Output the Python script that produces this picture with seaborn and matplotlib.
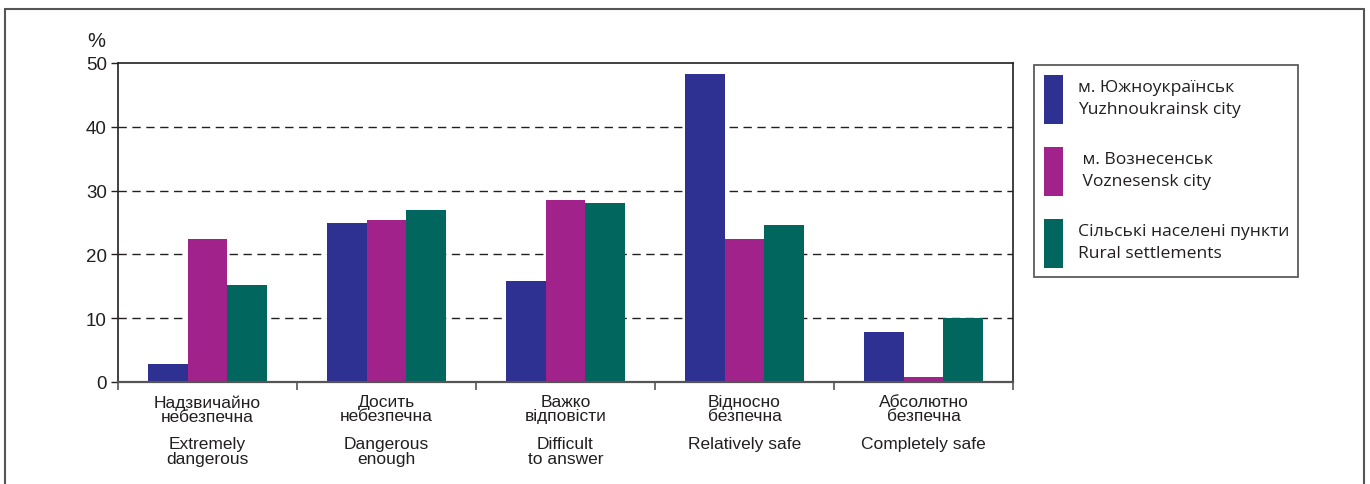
import matplotlib
matplotlib.use("Agg")
import matplotlib.pyplot as plt
from matplotlib.lines import Line2D
from matplotlib.patches import Patch
from matplotlib.ticker import FixedLocator, NullFormatter
import seaborn as sns
import pandas as pd

# Survey shares, %
categories_ua = ["Надзвичайно\nнебезпечна", "Досить\nнебезпечна", "Важко\nвідповісти",
                 "Відносно\nбезпечна", "Абсолютно\nбезпечна"]
categories_en = ["Extremely\ndangerous", "Dangerous\nenough", "Difficult\nto answer",
                 "Relatively safe", "Completely safe"]
series_names = ["м. Южноукраїнськ\nYuzhnoukrainsk city",
                " м. Вознесенськ\n Voznesensk city",
                "Сільські населені пункти\nRural settlements"]
yuzhnoukrainsk = [2.8, 24.9, 15.8, 48.2, 7.8]
voznesensk = [22.4, 25.4, 28.6, 22.4, 0.8]
rural = [15.2, 27.0, 28.1, 24.6, 10.0]
colors = ["#2E3192", "#A0228A", "#00665E"]
y_ticks = [0, 10, 20, 30, 40, 50]

rows = []
for name, vals in zip(series_names, [yuzhnoukrainsk, voznesensk, rural]):
    for cat, v in zip(categories_ua, vals):
        rows.append({"category": cat, "series": name, "value": v})
df = pd.DataFrame(rows)

sns.set_theme(style="white")
narrow = ["Liberation Sans Narrow", "Liberation Sans", "DejaVu Sans"]
plt.rcParams["font.family"] = narrow

W, H = 1370, 485
fig = plt.figure(figsize=(W / 100, H / 100), dpi=100)
ax = fig.add_axes([118 / W, 1 - 383 / H, (1013 - 118) / W, (383 - 64) / H])

sns.barplot(data=df, x="category", y="value", hue="series", order=categories_ua,
            hue_order=series_names, palette=colors, width=0.67, gap=0,
            saturation=1, legend=False, ax=ax, linewidth=0)

ax.set_ylim(0, 50)
ax.set_xlim(-0.5, len(categories_ua) - 0.5)
ax.set_yticks(y_ticks)
ax.set_yticklabels([str(t) for t in y_ticks], fontsize=13.5, color="#231f20")
for t in y_ticks[1:-1]:
    ax.axhline(t, color="#231f20", lw=1.0, ls=(0, (6, 4)), zorder=0)

ax.set_xticks(range(len(categories_ua)))
ax.set_xticklabels([])
ax.xaxis.set_minor_locator(FixedLocator([i - 0.5 for i in range(len(categories_ua) + 1)]))
ax.xaxis.set_minor_formatter(NullFormatter())
ax.tick_params(axis="x", which="major", length=0)
ax.tick_params(axis="x", which="minor", length=6, width=1.2, color="#555555", bottom=True)
ax.tick_params(axis="y", length=5, width=1.0, color="#231f20", left=True, pad=3)
ax.set_xlabel("")
ax.set_ylabel("")

for side in ["left", "bottom", "top", "right"]:
    ax.spines[side].set_visible(True)
    ax.spines[side].set_color("#231f20")
    ax.spines[side].set_linewidth(1.2)
ax.spines["bottom"].set_color("#555555")
ax.spines["bottom"].set_linewidth(1.6)

# two-language category labels
trans = ax.get_xaxis_transform()
for i, (ua, en) in enumerate(zip(categories_ua, categories_en)):
    ax.text(i, -0.038, ua, transform=trans, ha="center", va="top", fontsize=12.5,
            linespacing=0.92, color="#231f20")
    ax.text(i, -0.168, en, transform=trans, ha="center", va="top", fontsize=12.5,
            linespacing=1.0, color="#231f20")

ax.text(-0.0145, 1.04, "%", transform=ax.transAxes, ha="right", va="bottom",
        fontsize=14.5, color="#231f20")

handles = [Patch(facecolor=c, edgecolor="none") for c in colors]
leg = fig.legend(handles, series_names, loc="upper left",
                 bbox_to_anchor=(1034 / W, 1 - 66 / H, (1298 - 1034) / W, 0.0),
                 bbox_transform=fig.transFigure, mode="expand", borderaxespad=0,
                 frameon=True, fancybox=False, handlelength=1.08, handleheight=3.95,
                 handletextpad=0.9, labelspacing=1.3, borderpad=0.55,
                 prop={"family": ["Open Sans", "DejaVu Sans"], "size": 12.6})
leg.get_frame().set_edgecolor("#333333")
leg.get_frame().set_linewidth(1.3)
for t in leg.get_texts():
    t.set_color("#231f20")
    t.set_linespacing(1.5)

# outer frame of the panel
fc = "#555555"
fig.add_artist(Line2D([5 / W, 1364 / W], [1 - 10 / H, 1 - 10 / H], color=fc, lw=1.5,
                      transform=fig.transFigure))
fig.add_artist(Line2D([5 / W, 5 / W], [0, 1 - 10 / H], color=fc, lw=1.5,
                      transform=fig.transFigure))
fig.add_artist(Line2D([1364 / W, 1364 / W], [0, 1 - 10 / H], color=fc, lw=1.5,
                      transform=fig.transFigure))

fig.savefig("out.png", dpi=100, facecolor="white")
